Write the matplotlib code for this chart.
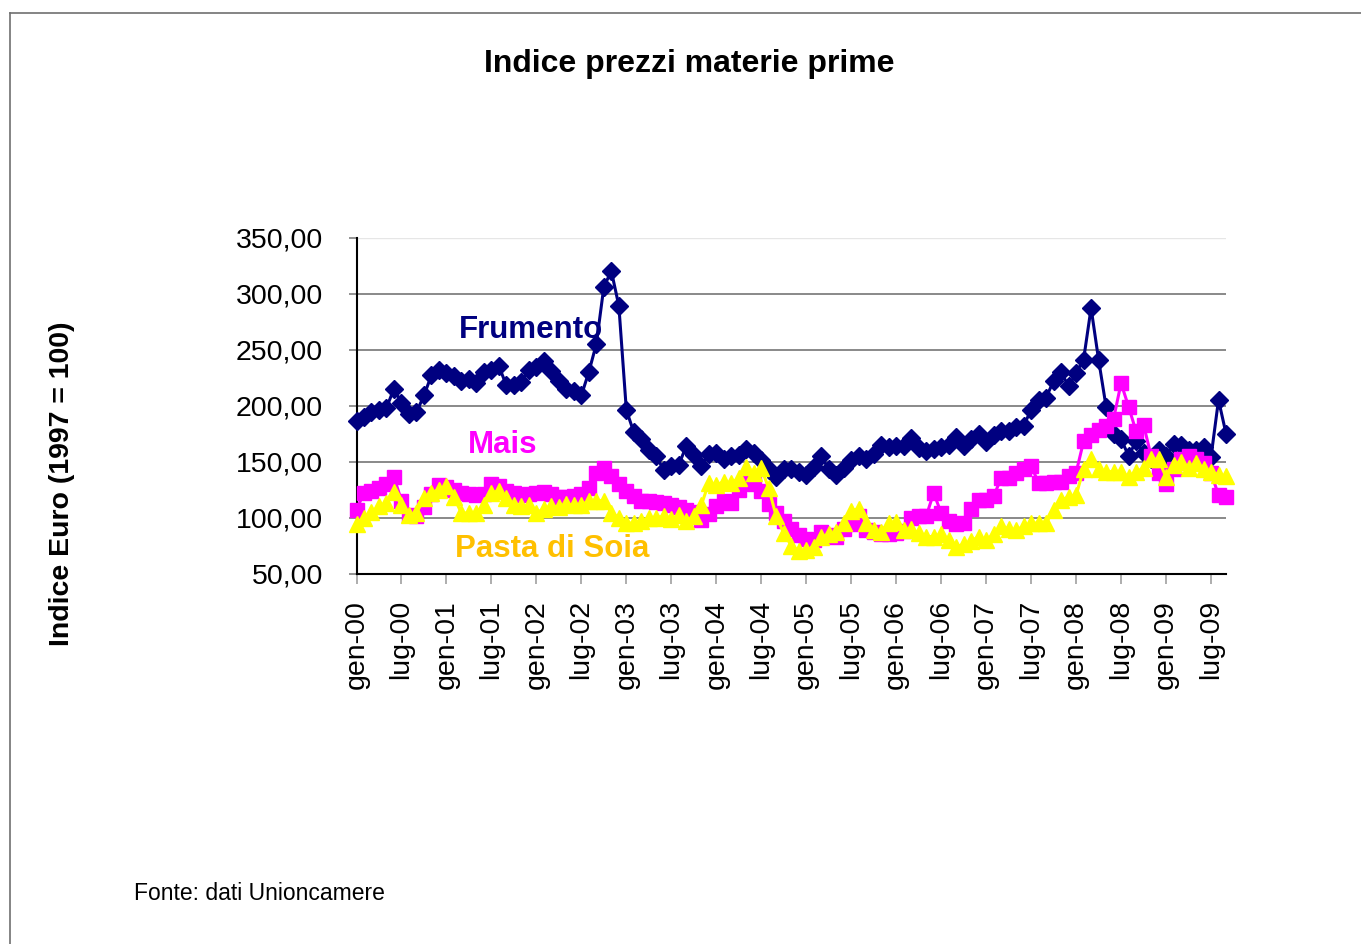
import matplotlib
matplotlib.use("Agg")
import matplotlib.pyplot as plt
from matplotlib.lines import Line2D
import numpy as np

# ---- data (monthly, gen-00 .. set-09) ----
months_it = ["gen", "feb", "mar", "apr", "mag", "giu", "lug", "ago", "set", "ott", "nov", "dic"]
n_months = 117
categories = [f"{months_it[i % 12]}-{str(2000 + i // 12)[2:]}" for i in range(n_months)]

frumento = [
    186, 190, 194, 196, 198, 215, 202, 192, 194, 209,   # 2000
    227, 232,
    229, 226, 222, 224, 220, 230, 232, 235, 218, 218,   # 2001
    221, 232,
    234, 240, 231, 222, 215, 213, 209, 230, 255, 306,   # 2002
    320, 289,
    196, 176, 170, 160, 155, 142, 146, 147, 164, 156,   # 2003
    146, 157,
    158, 152, 155, 156, 161, 158, 151, 143, 136, 143,   # 2004
    143, 141,
    138, 145, 155, 143, 138, 144, 151, 155, 152, 157,   # 2005
    165, 163,
    164, 164, 171, 162, 159, 161, 163, 165, 172, 164,   # 2006
    170, 175,
    167, 174, 177, 177, 181, 182, 196, 205, 207, 222,   # 2007
    230, 217,
    229, 241, 287, 241, 199, 175, 170, 155, 168, 158,   # 2008
    152, 160,
    155, 166, 165, 160, 160, 163, 154, 205, 175,        # 2009
]

mais = [
    107, 122, 124, 126, 130, 136, 115, 102, 101, 109,
    121, 129,
    127, 125, 122, 121, 120, 121, 130, 128, 124, 122,
    120, 121,
    122, 123, 121, 118, 118, 119, 121, 126, 140, 144,
    137, 130,
    124, 119, 115, 115, 114, 113, 111, 109, 107, 105,
    98, 103,
    110, 115, 113, 125, 135, 130, 124, 112, 104, 97,
    90, 84,
    81, 80, 87, 84, 83, 90, 94, 101, 89, 87,
    85, 85,
    86, 88, 100, 101, 101, 122, 104, 97, 94, 95,
    108, 116,
    116, 119, 135, 135, 140, 143, 146, 131, 131, 132,
    132, 137,
    140, 168, 174, 178, 182, 188, 220, 199, 177, 183,
    155, 140,
    130, 143, 152, 155, 152, 149, 140, 120, 118,
]

soia = [
    94, 100, 105, 110, 113, 123, 111, 102, 104, 117,
    122, 125,
    128, 118, 104, 104, 104, 111, 122, 124, 117, 111,
    110, 111,
    104, 108, 110, 109, 112, 111, 111, 115, 115, 115,
    104, 100,
    95, 95, 97, 100, 100, 101, 99, 102, 97, 101,
    111, 131,
    129, 132, 131, 135, 145, 140, 144, 126, 101, 86,
    75, 70,
    71, 74, 83, 85, 87, 95, 106, 108, 95, 89,
    87, 95,
    96, 89, 90, 86, 83, 83, 85, 80, 74, 76,
    79, 83,
    80, 85, 92, 90, 89, 92, 95, 95, 95, 107,
    116, 118,
    120, 143, 152, 143, 141, 141, 141, 136, 141, 144,
    152, 152,
    136, 147, 150, 144, 149, 143, 141, 138, 137,
]

y_ticks = [50, 100, 150, 200, 250, 300, 350]
y_tick_labels = ["50,00", "100,00", "150,00", "200,00", "250,00", "300,00", "350,00"]
x_tick_step = 6

title = "Indice prezzi materie prime"
y_label = "Indice Euro (1997 = 100)"
source = "Fonte: dati Unioncamere"

# ---- figure ----
plt.rcParams["font.family"] = ["Liberation Sans", "DejaVu Sans"]
W, H = 1361, 944
fig = plt.figure(figsize=(W / 100, H / 100), dpi=100)

ax = fig.add_axes([356.5 / W, 1 - 573.5 / H, (1226 - 356.5) / W, (573.5 - 237.5) / H])

x = np.arange(n_months)
ax.plot(x, frumento, color="#000080", lw=2.2, marker="D", ms=9, mec="#000080", mfc="#000080",
        zorder=3, clip_on=False)
ax.plot(x, mais, color="#FF00FF", lw=2.2, marker="s", ms=10, mec="#FF00FF", mfc="#FF00FF",
        zorder=4, clip_on=False)
ax.plot(x, soia, color="#FFFF00", lw=2.2, marker="^", ms=11, mec="#FFFF00", mfc="#FFFF00",
        zorder=5, clip_on=False)

ax.set_xlim(0, n_months - 1)
ax.set_ylim(50, 350)

for v in y_ticks[1:-1]:
    ax.axhline(v, color="#808080", lw=1.3, zorder=1)
ax.axhline(350, color="#e6e6e6", lw=1.0, zorder=1)

ax.set_yticks(y_ticks)
ax.set_yticklabels(y_tick_labels, fontsize=20.5)
xt = list(range(0, n_months, x_tick_step))
ax.set_xticks(xt)
ax.set_xticklabels([categories[i] for i in xt], rotation=90, fontsize=20.5)

ax.tick_params(axis="y", direction="out", length=6, width=1.2, color="#808080", pad=18)
ax.tick_params(axis="x", direction="out", length=7, width=1.2, color="#a0a0a0", pad=12)

for s in ["top", "right"]:
    ax.spines[s].set_visible(False)
ax.spines["left"].set_color("black")
ax.spines["bottom"].set_color("black")
ax.spines["left"].set_linewidth(1.5)
ax.spines["bottom"].set_linewidth(1.5)
ax.set_facecolor("white")

# series labels inside plot
ax.text(531 / W, 1 - 330 / H, "Frumento", transform=fig.transFigure, ha="center", va="center",
        fontsize=22.5, fontweight="bold", color="#000080", zorder=6)
ax.text(503 / W, 1 - 445 / H, "Mais", transform=fig.transFigure, ha="center", va="center",
        fontsize=22.5, fontweight="bold", color="#FF00FF", zorder=6)
ax.text(552 / W, 1 - 549 / H, "Pasta di Soia", transform=fig.transFigure, ha="center", va="center",
        fontsize=22.5, fontweight="bold", color="#FFC000", zorder=6)

fig.text(689.5 / W, 1 - 64 / H, title, ha="center", va="center", fontsize=23, fontweight="bold")
fig.text(62 / W, 1 - 484 / H, y_label, ha="center", va="center", rotation=90,
         fontsize=20.5, fontweight="bold")
fig.text(134 / W, 1 - 893 / H, source, ha="left", va="center", fontsize=16.5)

# outer frame (top and left edges visible)
fig.add_artist(Line2D([9.5 / W, 1.0], [1 - 12.5 / H, 1 - 12.5 / H], transform=fig.transFigure,
                      color="#707070", lw=1.2))
fig.add_artist(Line2D([9.5 / W, 9.5 / W], [0, 1 - 12.5 / H], transform=fig.transFigure,
                      color="#707070", lw=1.2))

fig.savefig("out.png", dpi=100, facecolor="white")
